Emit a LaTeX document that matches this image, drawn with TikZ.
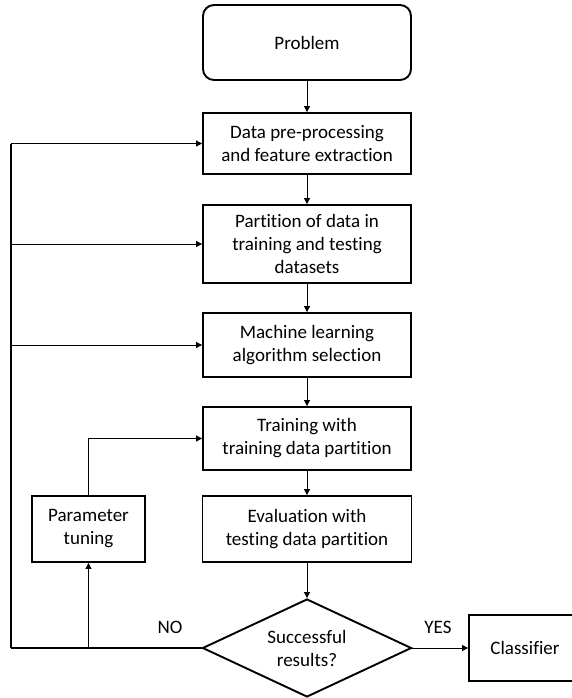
\documentclass[tikz,border=0pt]{standalone}
\usepackage{fontspec}
\setmainfont[Ligatures={NoCommon}]{Carlito}
\usetikzlibrary{arrows.meta,shapes.geometric}
\begin{document}
\begin{tikzpicture}[x=1pt,y=-1pt,
  box/.style={draw, line width=1.9pt, inner sep=0pt, align=center, font=\fontsize{19}{23}\selectfont},
  conn/.style={line width=1pt, -{Triangle[length=6pt,width=6pt]}},
  lab/.style={font=\fontsize{19}{23}\selectfont, inner sep=0pt}]
\useasboundingbox (0,0) rectangle (571,698);
\node[box, rounded corners=11pt, minimum width=208pt, minimum height=75pt] (prob) at (307,42.5) {Problem};
\node[box, minimum width=208pt, minimum height=61pt] (data) at (307,143.5) {Data pre-processing\\and feature extraction};
\node[box, minimum width=208pt, minimum height=78pt] (part) at (307,244) {Partition of data in\\training and testing\\datasets};
\node[box, minimum width=208pt, minimum height=64pt] (ml) at (307,345) {Machine learning\\algorithm selection};
\node[box, minimum width=208pt, minimum height=63pt] (train) at (307,438.5) {Training with\\training data partition};
\node[box, minimum width=209pt, minimum height=66pt] (eval) at (307,529) {Evaluation with\\testing data partition};
\node[box, minimum width=113pt, minimum height=66pt] (param) at (88.5,529) {Parameter\\tuning};
\node[draw, line width=1.9pt, diamond, aspect=2.13, inner sep=0pt, minimum width=209pt, minimum height=98pt] (dec) at (307,648) {};
\node[lab, align=center] (dectext) at (307,648) {Successful\\results?};
\node[box, minimum width=112pt, minimum height=66pt] (cls) at (525,648) {Classifier};
\node[lab] (no) at (170,627) {NO};
\node[lab] (yes) at (438,627) {YES};
\coordinate (lb) at (11,648);
\coordinate (pb) at (88.5,648);
\draw[conn] (prob) -- (data);
\draw[conn] (data) -- (part);
\draw[conn] (part) -- (ml);
\draw[conn] (ml) -- (train);
\draw[conn] (train) -- (eval);
\draw[conn] (eval) -- (dec.north);
\draw[conn] (dec.east) -- (cls.west);
\draw[line width=1.5pt] (dec.west) -- (lb);
\draw[line width=1.3pt] (lb) -- (lb |- data.west);
\draw[conn] (lb |- data.west) -- (data.west);
\draw[conn] (lb |- part.west) -- (part.west);
\draw[conn] (lb |- ml.west) -- (ml.west);
\draw[conn] (pb) -- (param.south);
\draw[conn] (param.north) |- (train.west);
\end{tikzpicture}
\end{document}
